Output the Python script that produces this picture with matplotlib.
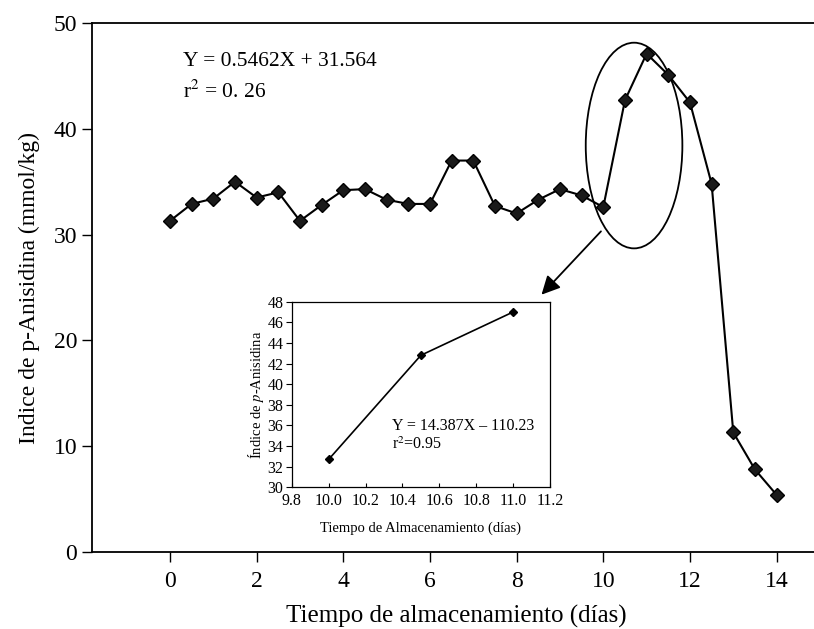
import matplotlib
matplotlib.use('Agg')
import matplotlib.pyplot as plt
from matplotlib.patches import Ellipse

plt.rcParams['font.family'] = ['Liberation Serif', 'DejaVu Serif']
plt.rcParams['mathtext.fontset'] = 'stix'

# main series: storage time (days) vs p-anisidine index
dias = [0, 0.5, 1, 1.5, 2, 2.5, 3, 3.5, 4, 4.5, 5, 5.5, 6, 6.5, 7,
        7.5, 8, 8.5, 9, 9.5, 10, 10.5, 11, 11.5, 12, 12.5, 13, 13.5, 14]
anisidina = [31.3, 32.9, 33.4, 35.0, 33.5, 34.0, 31.3, 32.8, 34.2, 34.3, 33.3, 32.9, 32.9, 37.0, 37.0,
             32.7, 32.0, 33.3, 34.3, 33.7, 32.6, 42.7, 47.1, 45.1, 42.5, 34.8, 11.3, 7.8, 5.4]

# inset series
dias_zoom = [10.0, 10.5, 11.0]
anisidina_zoom = [32.7, 42.8, 47.0]

fig = plt.figure(figsize=(8.14, 6.29), dpi=100)
ax = fig.add_axes([0.1127, 0.1224, 0.8946, 0.841])

ax.plot(dias, anisidina, color='black', lw=1.5, marker='D', markersize=7.5,
        markerfacecolor='#1a1a1a', markeredgecolor='black')
ax.set_xlim(-1.806, 15.0)
ax.set_ylim(0, 50)
ax.set_xticks(range(0, 15, 2))
ax.set_yticks(range(0, 51, 10))
ax.tick_params(axis='both', direction='out', length=7, width=1, labelsize=17)
ax.tick_params(axis='x', pad=7)
ax.spines['right'].set_visible(False)
for s in ['left', 'top', 'bottom']:
    ax.spines[s].set_linewidth(1.3)
ax.set_xlabel('Tiempo de almacenamiento (días)', fontsize=18, labelpad=9)
ax.set_ylabel('Indice de p-Anisidina (mmol/kg)', fontsize=17, labelpad=10)

ax.text(0.31, 46.34, 'Y = 0.5462X + 31.564', fontsize=15.5, va='center', ha='left')
ax.text(0.31, 43.5, 'r$^2$ = 0. 26', fontsize=15.5, va='center', ha='left')

ax.add_patch(Ellipse((10.71, 38.42), 2.23, 19.44, fill=False, color='black', lw=1.3))
ax.annotate('', xy=(8.53, 24.13), xytext=(9.99, 30.5),
            arrowprops=dict(arrowstyle='-|>', color='black', lw=1.3, mutation_scale=28))

# inset
ins = fig.add_axes([0.3584, 0.2253, 0.3173, 0.2951])
ins.plot(dias_zoom, anisidina_zoom, color='black', lw=1.2, marker='D', markersize=4)
ins.set_xlim(9.8, 11.2)
ins.set_ylim(30, 48)
ins.set_xticks([9.8, 10.0, 10.2, 10.4, 10.6, 10.8, 11.0, 11.2])
ins.set_xticklabels(['9.8', '10.0', '10.2', '10.4', '10.6', '10.8', '11.0', '11.2'])
ins.set_yticks(range(30, 49, 2))
ins.tick_params(axis='x', direction='in', length=3, labelsize=11.5, pad=4)
ins.tick_params(axis='y', direction='out', length=4, labelsize=11.5, pad=2)
for s in ins.spines.values():
    s.set_linewidth(0.9)
ins.set_xlabel('Tiempo de Almacenamiento (días)', fontsize=10.5, labelpad=9)
ins.set_ylabel('Índice de $\\it{p}$-Anisidina', fontsize=10.5, labelpad=1)
ins.text(0.387, 0.33, 'Y = 14.387X – 110.23', transform=ins.transAxes, fontsize=11.5, va='center')
ins.text(0.387, 0.228, 'r$^2$=0.95', transform=ins.transAxes, fontsize=11.5, va='center')

fig.savefig('out.png', dpi=100)
